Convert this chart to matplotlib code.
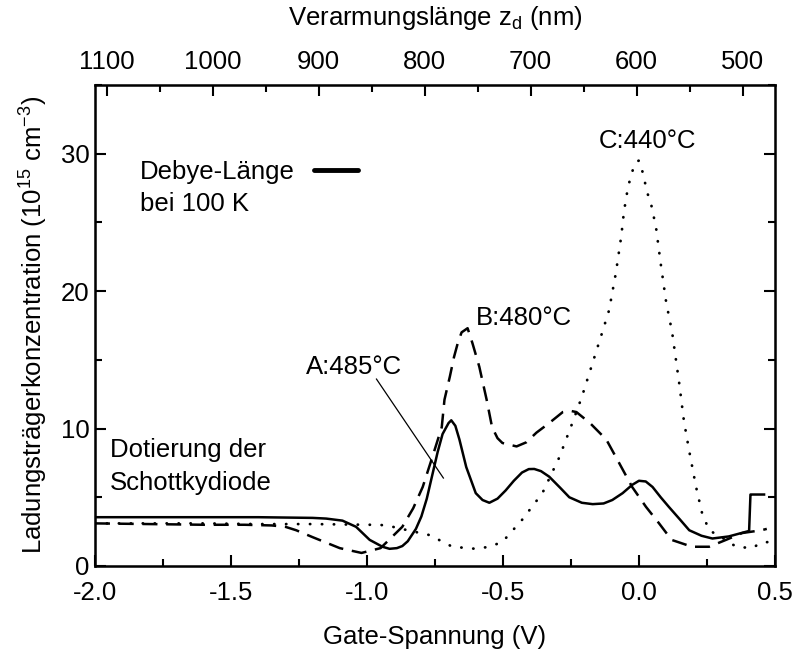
import matplotlib
matplotlib.use("Agg")
import matplotlib.pyplot as plt
from matplotlib.ticker import MultipleLocator, FormatStrFormatter

plt.rcParams['font.family'] = ['Liberation Sans', 'DejaVu Sans']
plt.rcParams['mathtext.default'] = 'regular'

# Series A: 485 °C (solid)
a_v = [-2.0, -1.8, -1.6, -1.4, -1.2, -1.15, -1.09, -1.04, -0.99, -0.943, -0.917, -0.89, -0.87,
       -0.85, -0.82, -0.80, -0.78, -0.76, -0.74, -0.722, -0.70, -0.69, -0.675, -0.66, -0.635,
       -0.60, -0.575, -0.55, -0.52, -0.49, -0.46, -0.43, -0.405, -0.385, -0.36, -0.33, -0.29,
       -0.256, -0.21, -0.17, -0.13, -0.098, -0.06, -0.025, 0.0, 0.025, 0.05, 0.08, 0.11, 0.15,
       0.185, 0.23, 0.27, 0.33, 0.405, 0.41, 0.415, 0.46]
a_n = [3.55, 3.55, 3.55, 3.55, 3.5, 3.45, 3.3, 2.85, 1.9, 1.4, 1.25, 1.3, 1.45,
       1.8, 2.7, 3.6, 4.9, 6.6, 8.3, 9.6, 10.4, 10.6, 10.2, 9.2, 7.2,
       5.3, 4.8, 4.6, 4.9, 5.5, 6.2, 6.8, 7.05, 7.06, 6.9, 6.5, 5.7,
       5.0, 4.6, 4.5, 4.55, 4.8, 5.3, 5.9, 6.2, 6.15, 5.75, 5.0, 4.3, 3.4,
       2.6, 2.2, 2.0, 2.15, 2.55, 5.2, 5.2, 5.2]

# Series B: 480 °C (dashed)
b_v = [-2.0, -1.8, -1.6, -1.45, -1.35, -1.3, -1.26, -1.2, -1.1, -1.02, -0.95, -0.87, -0.83,
       -0.795, -0.76, -0.725, -0.715, -0.695, -0.68, -0.665, -0.652, -0.63, -0.612, -0.587,
       -0.56, -0.54, -0.52, -0.502, -0.45, -0.414, -0.377, -0.33, -0.28, -0.255, -0.23, -0.18,
       -0.12, -0.073, -0.025, 0.026, 0.074, 0.12, 0.195, 0.258, 0.32, 0.38, 0.45, 0.47]
b_n = [3.1, 3.05, 3.0, 3.0, 2.95, 2.85, 2.6, 2.1, 1.3, 0.95, 1.3, 2.85, 4.2,
       5.75, 7.9, 10.1, 12.1, 13.8, 15.2, 16.3, 17.0, 17.3, 16.2, 14.5,
       12.1, 10.1, 9.3, 8.95, 8.7, 9.0, 9.7, 10.4, 11.2, 11.3, 11.2, 10.4,
       9.2, 7.5, 5.75, 4.3, 3.1, 1.9, 1.4, 1.4, 1.9, 2.4, 2.6, 2.7]

# Series C: 440 °C (dotted)
c_v = [-2.0, -1.8, -1.6, -1.4, -1.2, -1.0, -0.953, -0.905, -0.85, -0.77, -0.686, -0.6,
       -0.55, -0.502, -0.43, -0.355, -0.293, -0.245, -0.21, -0.17, -0.135, -0.11, -0.085,
       -0.065, -0.055, -0.04, -0.02, -0.01, 0.0, 0.008, 0.02, 0.03, 0.045, 0.063, 0.08,
       0.1, 0.122, 0.148, 0.165, 0.184, 0.21, 0.232, 0.258, 0.32, 0.357, 0.416, 0.45, 0.48]
c_n = [3.1, 3.1, 3.1, 3.05, 3.05, 3.0, 3.0, 2.85, 2.6, 2.25, 1.4, 1.25,
       1.4, 1.75, 3.35, 5.3, 7.9, 10.4, 12.3, 14.8, 17.0, 18.6, 21.3,
       24.0, 25.8, 27.6, 29.0, 29.4, 29.5, 29.1, 28.1, 27.2, 26.3, 24.6, 22.0,
       19.2, 17.0, 13.3, 10.6, 8.45, 5.75, 3.85, 2.6, 1.9, 1.4, 1.3, 1.7, 1.75]

# Top axis (depletion length, nm)
zd_ticks = [1100, 1000, 900, 800, 700, 600, 500]

FS = 18.5

fig = plt.figure(figsize=(7.94, 6.49), dpi=100)
ax = fig.add_axes([0.1196, 0.1279, 0.8564, 0.7412])

ax.plot(a_v, a_n, color='black', lw=1.8, ls='-')
ax.plot(b_v, b_n, color='black', lw=1.8, ls=(0, (6, 3.5)))
ax.plot(c_v, c_n, color='black', lw=2.0, ls=(0, (0.1, 4.2)), dash_capstyle='round')

ax.set_xlim(-2.0, 0.5)
ax.set_ylim(0, 35)
ax.xaxis.set_major_locator(MultipleLocator(0.5))
ax.xaxis.set_minor_locator(MultipleLocator(0.25))
ax.yaxis.set_major_locator(MultipleLocator(10))
ax.yaxis.set_minor_locator(MultipleLocator(5))
ax.xaxis.set_major_formatter(FormatStrFormatter('%.1f'))
ax.tick_params(which='both', direction='in', width=1.5, labelsize=FS, right=True, top=False)
ax.tick_params(which='major', length=8)
ax.tick_params(which='minor', length=5)
ax.tick_params(axis='x', pad=11)
ax.tick_params(axis='y', pad=4)
for s in ax.spines.values():
    s.set_linewidth(1.8)

ax.set_xlabel('Gate-Spannung (V)', fontsize=FS, labelpad=14)
ax.set_ylabel('Ladungsträgerkonzentration (10$^{15}$ cm$^{-3}$)', fontsize=FS, labelpad=8)

ax2 = ax.twiny()
ax2.set_xlim(1111, 469.5)
ax2.set_xticks(zd_ticks)
ax2.xaxis.set_minor_locator(MultipleLocator(50))
ax2.tick_params(which='both', direction='in', width=1.5, labelsize=FS, pad=8)
ax2.tick_params(which='major', length=8)
ax2.tick_params(which='minor', length=5)
ax2.set_xlabel('Verarmungslänge z$_d$ (nm)', fontsize=FS, labelpad=18)

# annotations
ax.text(-1.835, 28.7, 'Debye-Länge', fontsize=FS, va='center', ha='left')
ax.text(-1.835, 26.35, 'bei 100 K', fontsize=FS, va='center', ha='left')
ax.plot([-1.196, -1.034], [28.8, 28.8], color='black', lw=3.5, solid_capstyle='round')
ax.text(-1.945, 8.45, 'Dotierung der', fontsize=FS, va='center', ha='left')
ax.text(-1.945, 6.05, 'Schottkydiode', fontsize=FS, va='center', ha='left')
ax.text(0.03, 30.9, 'C:440°C', fontsize=FS, va='center', ha='center')
ax.text(-0.598, 18.06, 'B:480°C', fontsize=FS, va='center', ha='left')
ax.text(-1.225, 14.5, 'A:485°C', fontsize=FS, va='center', ha='left')
ax.plot([-0.965, -0.719], [13.6, 6.4], color='black', lw=0.9)

fig.savefig('out.png', dpi=100)
